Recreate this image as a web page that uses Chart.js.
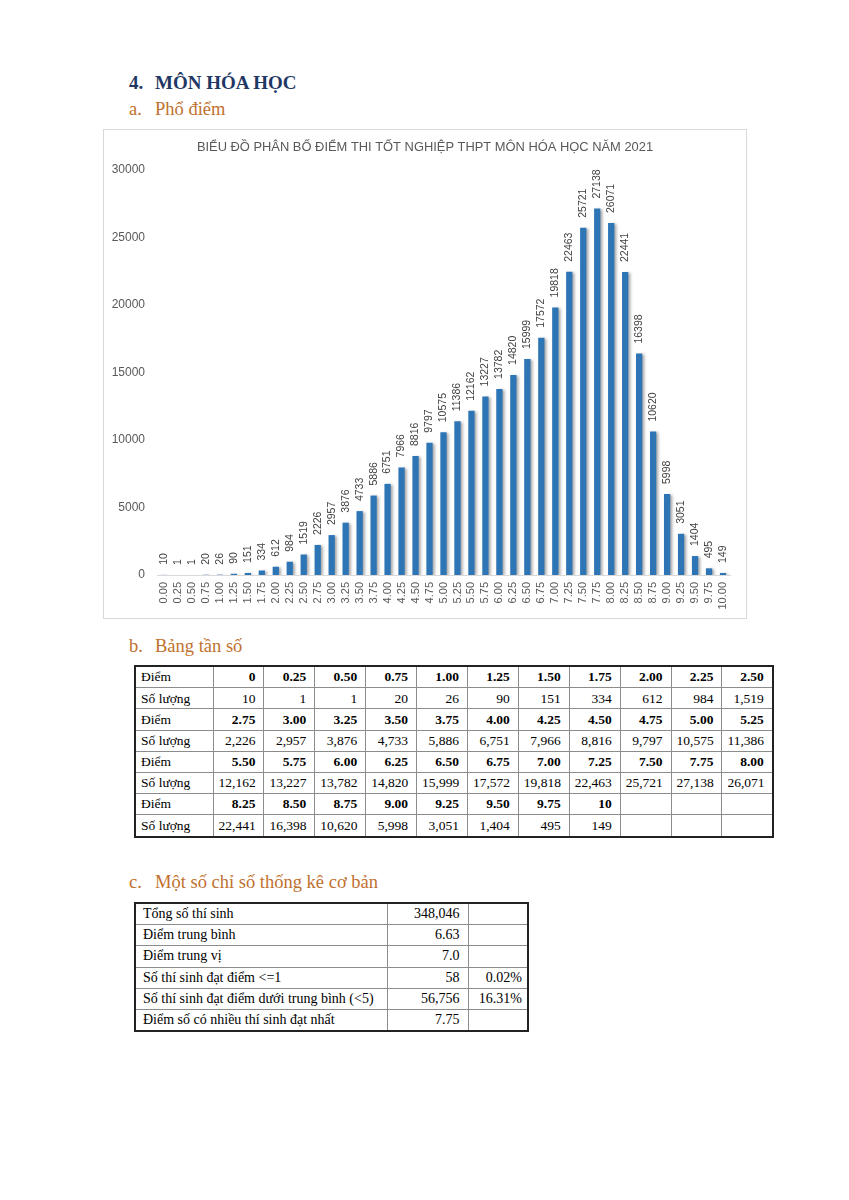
<!DOCTYPE html>
<html>
<head>
<meta charset="utf-8">
<script src="https://cdn.jsdelivr.net/npm/chart.js@4"></script>
<style>
  body { margin: 0; background: #fff; width: 849px; height: 1200px; position: relative; font-family: "Liberation Serif", "DejaVu Serif", serif; }
  .h { position: absolute; white-space: nowrap; line-height: 1; }
  .h .n { position: absolute; left: 0; }
  .h .t { position: absolute; left: 26px; }
  .h1 { left: 129px; font-size: 19px; font-weight: bold; color: #1f3864; }
  .h2 { left: 129px; font-size: 18.5px; color: #c0712f; }
  #box { position: absolute; left: 103px; top: 129px; width: 642px; height: 488px; border: 1px solid #d9d9d9; }
  table { position: absolute; border-collapse: collapse; table-layout: fixed; font-size: 13.5px; color: #000; }
  td { border: 1px solid #8c8c8c; height: 20.2px; padding: 0 8px 0 5px; text-align: right; line-height: 1; vertical-align: middle; overflow: hidden; white-space: nowrap; }
  td.lbl { text-align: left; }
  #freq { left: 134px; top: 665px; width: 638px; border: 2px solid #222; }
  #freq tr.sc td { font-weight: bold; }
  #freq tr.sc td.lbl { font-weight: normal; }
  #stats { left: 134px; top: 902px; width: 393px; border: 2px solid #222; font-size: 14px; }
  #stats td.lbl { padding-left: 7px; }
  #stats td.p { padding-right: 5px; }
</style>
</head>
<body>
<div class="h h1" style="top:73px"><span class="n">4.</span><span class="t">MÔN HÓA HỌC</span></div>
<div class="h h2" style="top:100px"><span class="n">a.</span><span class="t">Phổ điểm</span></div>
<div id="box"><canvas id="chart" width="642" height="488"></canvas></div>
<div class="h h2" style="top:637px"><span class="n">b.</span><span class="t">Bảng tần số</span></div>
<table id="freq"></table>
<div class="h h2" style="top:873px"><span class="n">c.</span><span class="t">Một số chỉ số thống kê cơ bản</span></div>
<table id="stats"></table>
<script>
const scores = ['0.00', '0.25', '0.50', '0.75', '1.00', '1.25', '1.50', '1.75', '2.00', '2.25', '2.50',
  '2.75', '3.00', '3.25', '3.50', '3.75', '4.00', '4.25', '4.50', '4.75', '5.00', '5.25',
  '5.50', '5.75', '6.00', '6.25', '6.50', '6.75', '7.00', '7.25', '7.50', '7.75', '8.00',
  '8.25', '8.50', '8.75', '9.00', '9.25', '9.50', '9.75', '10.00'];
const counts = [10, 1, 1, 20, 26, 90, 151, 334, 612, 984, 1519,
  2226, 2957, 3876, 4733, 5886, 6751, 7966, 8816, 9797, 10575, 11386,
  12162, 13227, 13782, 14820, 15999, 17572, 19818, 22463, 25721, 27138, 26071,
  22441, 16398, 10620, 5998, 3051, 1404, 495, 149];
const yTicks = [0, 5000, 10000, 15000, 20000, 25000, 30000];
const chartTitle = 'BIỂU ĐỒ PHÂN BỐ ĐIỂM THI TỐT NGHIỆP THPT MÔN HÓA HỌC NĂM 2021';

const statLabels = ['Tổng số thí sinh', 'Điểm trung bình', 'Điểm trung vị', 'Số thí sinh đạt điểm <=1',
  'Số thí sinh đạt điểm dưới trung bình (<5)', 'Điểm số có nhiều thí sinh đạt nhất'];
const statValues = ['348,046', '6.63', '7.0', '58', '56,756', '7.75'];
const statPercents = ['', '', '', '0.02%', '16.31%', ''];

// frequency table, 11 columns per block
const freq = document.getElementById('freq');
let html = '<colgroup><col style="width:78px">' + '<col style="width:50.9px">'.repeat(11) + '</colgroup>';
for (let i = 0; i < scores.length; i += 11) {
  let r1 = '<tr class="sc"><td class="lbl">Điểm</td>';
  let r2 = '<tr><td class="lbl">Số lượng</td>';
  for (let j = i; j < i + 11; j++) {
    if (j < scores.length) {
      let s = scores[j];
      if (s === '0.00') s = '0';
      if (s === '10.00') s = '10';
      r1 += '<td>' + s + '</td>';
      r2 += '<td>' + counts[j].toLocaleString('en-US') + '</td>';
    } else {
      r1 += '<td></td>';
      r2 += '<td></td>';
    }
  }
  html += r1 + '</tr>' + r2 + '</tr>';
}
freq.innerHTML = html;

const stats = document.getElementById('stats');
stats.innerHTML = '<colgroup><col style="width:252px"><col style="width:81px"><col style="width:60px"></colgroup>' +
  statLabels.map((l, i) =>
    '<tr><td class="lbl">' + l + '</td><td class="v">' + statValues[i] + '</td><td class="p">' + statPercents[i] + '</td></tr>'
  ).join('');

const barLabels = {
  id: 'barLabels',
  beforeDatasetsDraw(chart) {
    const ctx = chart.ctx;
    ctx.save();
    ctx.shadowColor = 'rgba(0,0,0,0.35)';
    ctx.shadowBlur = 3;
    ctx.shadowOffsetX = 2;
    ctx.shadowOffsetY = 1;
  },
  afterDatasetsDraw(chart) {
    const ctx = chart.ctx;
    ctx.restore();
    const meta = chart.getDatasetMeta(0);
    ctx.save();
    ctx.font = '10.5px "Liberation Sans", Arial, sans-serif';
    ctx.fillStyle = '#404040';
    ctx.textAlign = 'left';
    ctx.textBaseline = 'middle';
    meta.data.forEach((bar, i) => {
      ctx.save();
      ctx.translate(bar.x, bar.y - 10);
      ctx.rotate(-Math.PI / 2);
      ctx.fillText(String(counts[i]), 0, 0);
      ctx.restore();
    });
    ctx.restore();
  }
};

new Chart(document.getElementById('chart'), {
  type: 'bar',
  data: {
    labels: scores,
    datasets: [{
      data: counts,
      backgroundColor: '#2e75b6',
      barPercentage: 0.45,
      categoryPercentage: 1
    }]
  },
  options: {
    responsive: false,
    animation: false,
    layout: { padding: 0 },
    plugins: {
      legend: { display: false },
      tooltip: { enabled: false },
      title: {
        display: true,
        text: chartTitle,
        color: '#595959',
        font: { family: '"Liberation Sans", Arial, sans-serif', size: 12.9, weight: 'normal', lineHeight: 1.2 },
        padding: { top: 10, bottom: 14.5 }
      }
    },
    scales: {
      x: {
        grid: { display: false, drawTicks: false },
        border: { color: '#d9d9d9' },
        ticks: {
          autoSkip: false, maxRotation: 90, minRotation: 90, padding: 7,
          color: '#595959',
          font: { family: '"Liberation Sans", Arial, sans-serif', size: 11 }
        },
        afterFit(s) { s.height = 43; }
      },
      y: {
        min: 0, max: 30000,
        grid: { display: false, drawTicks: false },
        border: { display: false },
        afterBuildTicks(s) { s.ticks = yTicks.map(v => ({ value: v })); },
        ticks: {
          padding: 12,
          color: '#595959',
          font: { family: '"Liberation Sans", Arial, sans-serif', size: 12 },
          callback: v => String(v)
        },
        afterFit(s) { s.width = 53; }
      },
      // empty right-hand axis, only keeps the plot clear of the right border
      yRight: {
        position: 'right',
        grid: { display: false, drawTicks: false },
        border: { display: false },
        ticks: { display: false },
        afterFit(s) { s.width = 16; }
      }
    }
  },
  plugins: [barLabels]
});
</script>
</body>
</html>
